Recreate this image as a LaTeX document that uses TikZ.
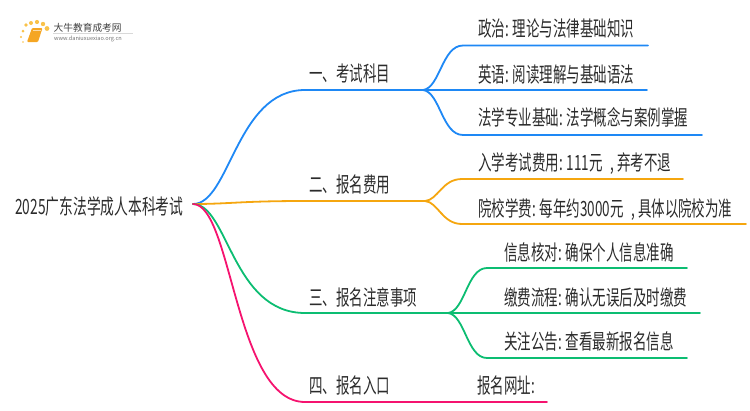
\documentclass[tikz,border=0pt]{standalone}
\usepackage{fontspec}
\setmainfont{Noto Sans CJK SC}[Scale=1]
\newcommand{\sq}[1]{\scalebox{0.642}[1]{#1}}
\definecolor{cblue}{HTML}{1E88F5}
\definecolor{corange}{HTML}{F5A60F}
\definecolor{cgreen}{HTML}{0CBD72}
\definecolor{cpink}{HTML}{F5136F}
\definecolor{ctext}{HTML}{2B2B2B}
\definecolor{cbook}{HTML}{F5A623}
\definecolor{cdot}{HTML}{F9C24A}
\tikzset{
  branch/.style={line width=1.8pt,line cap=round},
  lbl/.style={inner sep=0pt,anchor=base west,text=ctext,font=\fontsize{21}{24}\selectfont},
}
\begin{document}
\begin{tikzpicture}[x=1pt,y=-1pt]
\useasboundingbox (0,0) rectangle (750,410);
% logo
\foreach \a/\b/\r in {23/42/0.9,21/37/1.2,23/31/1.5,26/25/1.8,31/23/2,37/22/2.1,43/24/2.2,47/28.5/2.4}{
  \fill[cdot] (\a,\b) circle (\r);}
\fill[cbook,rounded corners=1pt] (32,28) -- (42.5,28) -- (38,42) -- (27,42) -- cycle;
\draw[white!60!cbook,line width=.5pt] (33,30)--(41,30);
\draw[black!15,line width=.4pt] (53,33.3)--(133,33.3);
\node[inner sep=0pt,anchor=west,text=black!75,font=\fontsize{9.7}{10}\selectfont] (logotext) at (53.5,27.5) {大牛教育成考网};
\node[inner sep=0pt,anchor=west,text=black!55,font=\fontsize{5.6}{6}\selectfont] (logourl) at (54,39) {www.daniuxuexiao.org.cn};
\coordinate (o) at (193,204);
% nodes
\node[lbl] (r) at (15,214) {\scalebox{0.655}[1]{2025广东法学成人本科考试}};
\node[lbl] (a) at (309,81) {\sq{一、考试科目}};
\node[lbl] (b) at (309,192) {\sq{二、报名费用}};
\node[lbl] (c) at (309,305) {\sq{三、报名注意事项}};
\node[lbl] (d) at (309,393) {\sq{四、报名入口}};
\node[lbl] (a1) at (478,36) {\sq{政治: 理论与法律基础知识}};
\node[lbl] (a2) at (478,82) {\sq{英语: 阅读理解与基础语法}};
\node[lbl] (a3) at (478,125) {\sq{法学专业基础: 法学概念与案例掌握}};
\node[lbl] (b1) at (478,170) {\sq{入学考试费用: 111元\,\, , 弃考不退}};
\node[lbl] (b2) at (478,216) {\sq{院校学费: 每年约3000元\,\, , 具体以院校为准}};
\node[lbl] (c1) at (504,260) {\sq{信息核对: 确保个人信息准确}};
\node[lbl] (c2) at (504,305) {\sq{缴费流程: 确认无误后及时缴费}};
\node[lbl] (c3) at (504,349) {\sq{关注公告: 查看最新报名信息}};
\node[lbl] (d1) at (477,393) {\sq{报名网址:}};
% blue
\draw[branch,cblue] (o) .. controls (230,204) and (236,90) .. (305,90) -- (423,90);
\draw[branch,cblue] (423,90) .. controls (440,88) and (442,45.5) .. (463,45.5) -- (648,45.5);
\draw[branch,cblue] (423,90) -- (647,90);
\draw[branch,cblue] (423,90) .. controls (440,92) and (442,135) .. (463,135) -- (702,135);
% orange
\draw[branch,corange] (o) .. controls (230,204) and (240,201) .. (305,201) -- (425,201);
\draw[branch,corange] (425,201) .. controls (438,200) and (442,179) .. (462,179) -- (683,179);
\draw[branch,corange] (425,201) .. controls (438,202) and (442,224) .. (462,224) -- (746,224);
% green
\draw[branch,cgreen] (o) .. controls (228,204) and (232,313) .. (305,313) -- (448,313);
\draw[branch,cgreen] (448,313) .. controls (465,311) and (467,268) .. (487,268) -- (687,268);
\draw[branch,cgreen] (448,313) -- (700,313);
\draw[branch,cgreen] (448,313) .. controls (465,315) and (467,358) .. (487,358) -- (687,358);
% pink
\draw[branch,cpink] (o) .. controls (232,204) and (235,402) .. (305,402) -- (547,402);
\end{tikzpicture}
\end{document}
